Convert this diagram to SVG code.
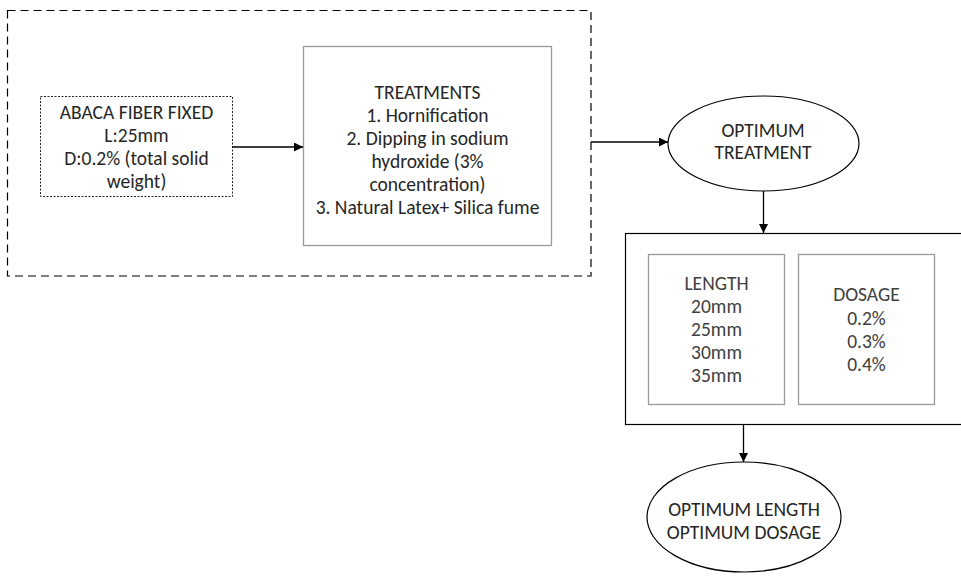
<svg xmlns="http://www.w3.org/2000/svg" width="961" height="576" viewBox="0 0 961 576">
  <defs>
    <marker id="arrow" viewBox="0 0 10 10" refX="10" refY="5" markerWidth="9" markerHeight="9" markerUnits="userSpaceOnUse" orient="auto">
      <path d="M0,0 L10,5 L0,10 z" fill="#000"/>
    </marker>
  </defs>
  <style>
    text { font-family: Carlito, Lato, "Liberation Sans", sans-serif; font-size: 19.5px; text-anchor: middle; fill: #262626; }
    .gray { fill: #404040; }
    .box { fill: #fff; stroke: #9a9a9a; stroke-width: 1.3; }
    .edge { fill: none; stroke: #000; stroke-width: 1.3; marker-end: url(#arrow); }
    .shape { fill: #fff; stroke: #000; stroke-width: 1.2; }
  </style>
  <rect width="961" height="576" fill="#fff"/>

  <!-- treatment stage container -->
  <g id="treatment-stage">
    <rect x="7.5" y="10.5" width="583.5" height="265.5" fill="none" stroke="#000" stroke-width="1.2" stroke-dasharray="8,5"/>
  </g>

  <g id="abaca">
    <rect x="40.5" y="96.5" width="192" height="100" fill="#fff" stroke="#222" stroke-width="1" stroke-dasharray="2,1.5"/>
    <text x="136.5" y="119">ABACA FIBER FIXED</text>
    <text x="136.5" y="142">L:25mm</text>
    <text x="136.5" y="165">D:0.2% (total solid</text>
    <text x="136.5" y="188">weight)</text>
  </g>

  <g id="treatments">
    <rect class="box" x="303.5" y="46.5" width="248" height="199"/>
    <text x="427.5" y="98.5">TREATMENTS</text>
    <text x="427.5" y="121.5">1. Hornification</text>
    <text x="427.5" y="144.5">2. Dipping in sodium</text>
    <text x="427.5" y="167.5">hydroxide (3%</text>
    <text x="427.5" y="190.5">concentration)</text>
    <text x="427.5" y="213.5">3. Natural Latex+ Silica fume</text>
  </g>

  <g id="optimum-treatment">
    <ellipse class="shape" cx="763.5" cy="143.5" rx="95.5" ry="47.5"/>
    <text x="763" y="137">OPTIMUM</text>
    <text x="763" y="159">TREATMENT</text>
  </g>

  <g id="variables">
    <rect class="shape" x="625.5" y="233.5" width="345" height="191"/>
  </g>

  <g id="length">
    <rect class="box" x="648.5" y="254.5" width="136" height="150"/>
    <text class="gray" x="716.5" y="290">LENGTH</text>
    <text class="gray" x="716.5" y="313">20mm</text>
    <text class="gray" x="716.5" y="336">25mm</text>
    <text class="gray" x="716.5" y="359">30mm</text>
    <text class="gray" x="716.5" y="382">35mm</text>
  </g>

  <g id="dosage">
    <rect class="box" x="798.5" y="254.5" width="136" height="150"/>
    <text class="gray" x="866.5" y="301">DOSAGE</text>
    <text class="gray" x="866.5" y="325">0.2%</text>
    <text class="gray" x="866.5" y="348">0.3%</text>
    <text class="gray" x="866.5" y="371">0.4%</text>
  </g>

  <g id="optimum-result">
    <ellipse class="shape" cx="744" cy="517" rx="97" ry="55"/>
    <text x="744" y="516">OPTIMUM LENGTH</text>
    <text x="744" y="539">OPTIMUM DOSAGE</text>
  </g>

  <g id="connectors">
    <line class="edge" x1="232.5" y1="147" x2="303" y2="147"/>
    <line class="edge" x1="591" y1="142" x2="668" y2="142"/>
    <line class="edge" x1="763.5" y1="191" x2="763.5" y2="233"/>
    <line class="edge" x1="743.5" y1="425" x2="743.5" y2="462"/>
  </g>
</svg>
